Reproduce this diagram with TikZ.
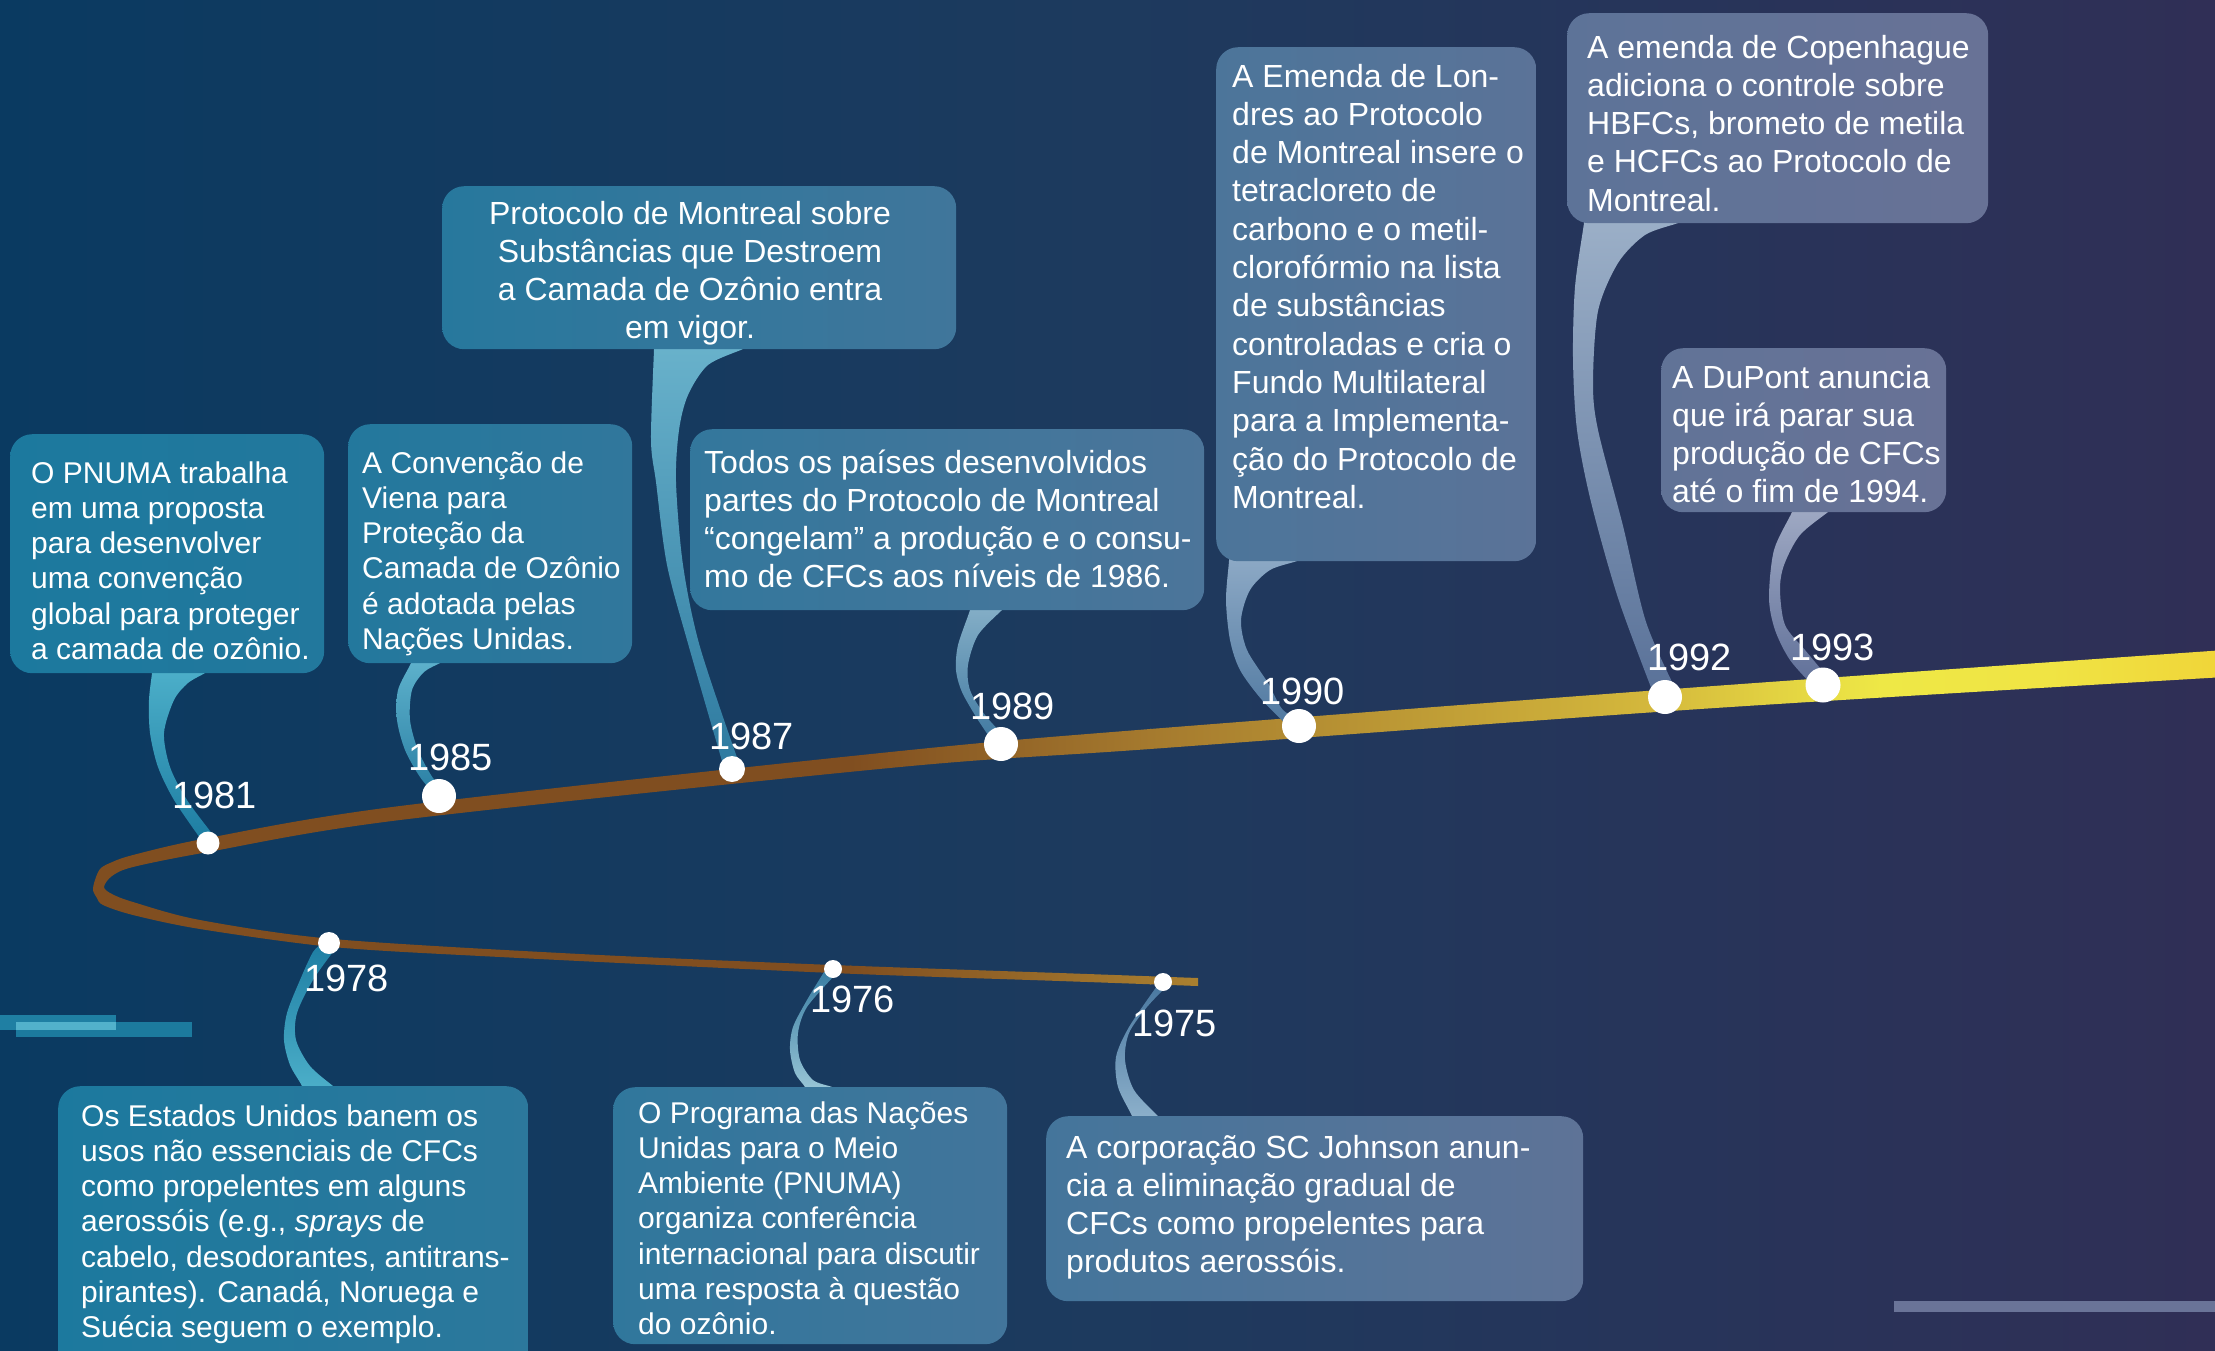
\documentclass[tikz,border=0pt]{standalone}
\usepackage{fontspec}
\setmainfont{Liberation Sans}
\newcommand\fsmall{\fontsize{30}{35.3}\selectfont}
\newcommand\flarge{\fontsize{32}{38.3}\selectfont}
\newcommand\fyear{\fontsize{38}{40}\selectfont}
% background
\definecolor{bgL}{RGB}{10,58,97}
\definecolor{bgM}{RGB}{29,58,94}
\definecolor{bgR}{RGB}{48,47,86}
% bars
\definecolor{barA}{RGB}{31,127,163}
\definecolor{barB}{RGB}{28,122,158}
\definecolor{barC}{RGB}{82,177,203}
\definecolor{barD}{RGB}{106,116,152}
% ribbon
\definecolor{rb0}{RGB}{128,78,32}
\definecolor{rb1}{RGB}{165,122,46}
\definecolor{rb2}{RGB}{212,184,60}
\definecolor{rb3}{RGB}{238,232,70}
\definecolor{rb4}{RGB}{240,228,68}
\definecolor{rb5}{RGB}{240,212,56}
% boxes
\definecolor{b1981L}{RGB}{28,121,158}\definecolor{b1981R}{RGB}{34,120,157}
\definecolor{b1985L}{RGB}{35,120,157}\definecolor{b1985R}{RGB}{49,119,156}
\definecolor{b1987L}{RGB}{39,120,157}\definecolor{b1987R}{RGB}{64,118,155}
\definecolor{b1989L}{RGB}{51,119,156}\definecolor{b1989R}{RGB}{76,117,154}
\definecolor{b1990L}{RGB}{76,117,154}\definecolor{b1990R}{RGB}{91,115,152}
\definecolor{b1992L}{RGB}{93,115,152}\definecolor{b1992R}{RGB}{104,114,150}
\definecolor{b1993L}{RGB}{97,115,151}\definecolor{b1993R}{RGB}{104,114,150}
\definecolor{b1978L}{RGB}{28,121,158}\definecolor{b1978R}{RGB}{44,120,156}
\definecolor{b1976L}{RGB}{48,119,156}\definecolor{b1976R}{RGB}{66,117,155}
\definecolor{b1975L}{RGB}{68,117,155}\definecolor{b1975R}{RGB}{94,115,151}
% tails (a = light, box end; b = dark, dot end)
\definecolor{t1981a}{RGB}{77,176,202}\definecolor{t1981b}{RGB}{30,126,163}
\definecolor{t1985a}{RGB}{95,179,205}\definecolor{t1985b}{RGB}{42,127,164}
\definecolor{t1987a}{RGB}{106,179,204}\definecolor{t1987b}{RGB}{46,122,160}
\definecolor{t1989a}{RGB}{134,176,200}\definecolor{t1989b}{RGB}{63,120,160}
\definecolor{t1990a}{RGB}{142,170,198}\definecolor{t1990b}{RGB}{79,120,160}
\definecolor{t1992a}{RGB}{156,176,200}\definecolor{t1992b}{RGB}{90,114,153}
\definecolor{t1993a}{RGB}{160,170,196}\definecolor{t1993b}{RGB}{95,111,152}
\definecolor{t1978a}{RGB}{77,176,202}\definecolor{t1978b}{RGB}{30,126,163}
\definecolor{t1976a}{RGB}{156,200,216}\definecolor{t1976b}{RGB}{58,126,163}
\definecolor{t1975a}{RGB}{143,178,204}\definecolor{t1975b}{RGB}{74,120,160}
\newcommand\calltail[4]{\shade[top color=#1, bottom color=#2] plot[smooth] coordinates {#3} -- plot[smooth] coordinates {#4} -- cycle;}
\tikzset{
  evbox/.style={rounded corners=22pt, inner sep=0pt, anchor=north west, draw=none},
  evtext/.style={anchor=base west, inner sep=0pt, text=white},
  yearlbl/.style={anchor=base west, inner sep=0pt, text=white, font=\fyear},
  dotc/.style={circle, fill=white, inner sep=0pt, draw=none}
}
\begin{document}
\begin{tikzpicture}[x=1pt,y=-1pt]
\useasboundingbox (0,0) rectangle (2215,1350);
\clip (0,0) rectangle (2215,1350);
% background
\shade[left color=bgL, right color=bgM] (0,0) rectangle (1101,1350);
\shade[left color=bgM, right color=bgR] (1100,0) rectangle (2215,1350);
% decorative bars
\fill[barA] (0,1015) rectangle (116,1030);
\fill[barB] (16,1022) rectangle (192,1037);
\fill[barC] (16,1022) rectangle (116,1030);
\fill[barD] (1894,1301) rectangle (2215,1312);
% timeline ribbon
\begin{scope}
\clip plot[smooth] coordinates {(2225,650) (1700,687) (1150,729) (900,751) (400,806) (208,838) (133,855) (110,863) (100,869) (95,880) (93,890) (97,898) (103,905) (133,915) (200,929) (333,947) (500,957) (833,973) (1060,981) (1198,986)}
  -- (1198,978)
  -- plot[smooth] coordinates {(1060,973) (833,965) (580,954) (333,939) (200,920) (133,902) (112,894) (104,887) (112,876) (133,867) (208,852) (400,820) (900,767) (1150,749) (1700,709) (2225,677)} -- cycle;
\fill[rb0] (0,600) rectangle (851,1000);
\shade[left color=rb0, right color=rb1] (850,600) rectangle (1151,1000);
\shade[left color=rb1, right color=rb2] (1150,600) rectangle (1651,1000);
\shade[left color=rb2, right color=rb3] (1650,600) rectangle (1881,1000);
\shade[left color=rb3, right color=rb4] (1880,600) rectangle (2051,1000);
\shade[left color=rb4, right color=rb5] (2050,600) rectangle (2230,1000);
\end{scope}
% tails (upper boxes)
\calltail{t1981a}{t1981b}{(152,666) (152,673) (149,700) (150,733) (158,767) (174,800) (200,838)}{(214,836) (187,800) (170,767) (164,733) (174,700) (188,683) (205,673) (210,668)}
\calltail{t1985a}{t1985b}{(411,656) (411,663) (398,690) (397,720) (405,750) (420,777) (435,795)}{(447,790) (433,778) (418,750) (410,720) (412,690) (424,672) (440,663) (445,659)}
\calltail{t1987a}{t1987b}{(654,342) (654,349) (651,440) (656,482) (667,565) (689,647) (724,768)}{(740,766) (700,647) (683,565) (676,482) (679,430) (688,395) (708,365) (743,349) (748,345)}
\calltail{t1989a}{t1989b}{(970,603) (970,610) (958,645) (956,670) (962,692) (978,720) (995,745)}{(1008,740) (985,715) (970,690) (968,665) (978,635) (1002,610) (1007,606)}
\calltail{t1990a}{t1990b}{(1229,554) (1229,561) (1226,600) (1230,640) (1240,670) (1262,700) (1290,728)}{(1305,722) (1283,710) (1268,683) (1247,650) (1241,620) (1250,590) (1270,570) (1297,561) (1302,557)}
\calltail{t1992a}{t1992b}{(1584,216) (1584,223) (1575,287) (1573,359) (1577,430) (1591,502) (1618,598) (1652,690)}{(1676,690) (1646,622) (1623,526) (1598,430) (1593,383) (1598,311) (1618,263) (1645,235) (1678,223) (1683,219)}
\calltail{t1993a}{t1993b}{(1792,505) (1792,512) (1774,550) (1769,598) (1775,630) (1790,660) (1815,688)}{(1830,680) (1805,650) (1785,625) (1780,590) (1784,565) (1800,535) (1828,512) (1833,508)}
% tails (lower boxes)
\calltail{t1978b}{t1978a}{(322,944) (313,952) (300,980) (287,1013) (284,1040) (290,1065) (302,1086) (302,1093)}{(338,1090) (333,1086) (310,1066) (296,1040) (297,1013) (313,980) (333,952)}
\calltail{t1976b}{t1976a}{(824,972) (807,1000) (793,1027) (790,1050) (795,1073) (805,1087) (805,1094)}{(837,1091) (832,1087) (813,1080) (800,1060) (798,1033) (807,1007) (835,975)}
\calltail{t1975b}{t1975a}{(1157,986) (1129,1027) (1116,1057) (1118,1087) (1132,1116) (1132,1123)}{(1163,1120) (1158,1116) (1134,1090) (1125,1060) (1129,1033) (1147,1007) (1168,985)}
% boxes
\node[evbox, minimum width=314pt, minimum height=239pt, left color=b1981L, right color=b1981R] (b1981) at (10,434) {};
\node[evbox, minimum width=284pt, minimum height=239pt, left color=b1985L, right color=b1985R] (b1985) at (348,424) {};
\node[evbox, minimum width=514pt, minimum height=163pt, left color=b1987L, right color=b1987R] (b1987) at (442,186) {};
\node[evbox, minimum width=514pt, minimum height=181pt, left color=b1989L, right color=b1989R] (b1989) at (690,429) {};
\node[evbox, minimum width=320pt, minimum height=514pt, left color=b1990L, right color=b1990R] (b1990) at (1216,47) {};
\node[evbox, minimum width=421pt, minimum height=210pt, left color=b1992L, right color=b1992R] (b1992) at (1567,13) {};
\node[evbox, minimum width=285pt, minimum height=164pt, left color=b1993L, right color=b1993R] (b1993) at (1661,348) {};
\node[evbox, minimum width=470pt, minimum height=300pt, left color=b1978L, right color=b1978R] (b1978) at (58,1086) {};
\node[evbox, minimum width=394pt, minimum height=257pt, left color=b1976L, right color=b1976R] (b1976) at (613,1087) {};
\node[evbox, minimum width=537pt, minimum height=185pt, left color=b1975L, right color=b1975R] (b1975) at (1046,1116) {};
% box texts
\node[evtext] (x1981) at (31,483) {\parbox[t]{600pt}{\fsmall\raggedright O PNUMA trabalha\\em uma proposta\\para desenvolver\\uma convenção\\global para proteger\\a camada de ozônio.}};
\node[evtext] (x1985) at (362,473) {\parbox[t]{600pt}{\fsmall\raggedright A Convenção de\\Viena para\\Proteção da\\Camada de Ozônio\\é adotada pelas\\Nações Unidas.}};
\node[anchor=base, inner sep=0pt, text=white] (x1987) at (690,224) {\parbox[t]{600pt}{\flarge\centering Protocolo de Montreal sobre\\Substâncias que Destroem\\a Camada de Ozônio entra\\em vigor.}};
\node[evtext] (x1989) at (704,473) {\parbox[t]{600pt}{\flarge\raggedright Todos os países desenvolvidos\\partes do Protocolo de Montreal\\“congelam” a produção e o consu-\\mo de CFCs aos níveis de 1986.}};
\node[evtext] (x1990) at (1232,87) {\parbox[t]{600pt}{\flarge\raggedright A Emenda de Lon-\\dres ao Protocolo\\de Montreal insere o\\tetracloreto de\\carbono e o metil-\\clorofórmio na lista\\de substâncias\\controladas e cria o\\Fundo Multilateral\\para a Implementa-\\ção do Protocolo de\\Montreal.}};
\node[evtext] (x1992) at (1587,58) {\parbox[t]{600pt}{\flarge\raggedright A emenda de Copenhague\\adiciona o controle sobre\\HBFCs, brometo de metila\\e HCFCs ao Protocolo de\\Montreal.}};
\node[evtext] (x1993) at (1672,388) {\parbox[t]{600pt}{\flarge\raggedright A DuPont anuncia\\que irá parar sua\\produção de CFCs\\até o fim de 1994.}};
\node[evtext] (x1978) at (81,1126) {\parbox[t]{600pt}{\fsmall\raggedright Os Estados Unidos banem os\\usos não essenciais de CFCs\\como propelentes em alguns\\aerossóis (e.g., \textit{sprays} de\\cabelo, desodorantes, antitrans-\\pirantes). Canadá, Noruega e\\Suécia seguem o exemplo.}};
\node[evtext] (x1976) at (638,1123) {\parbox[t]{600pt}{\fsmall\raggedright O Programa das Nações\\Unidas para o Meio\\Ambiente (PNUMA)\\organiza conferência\\internacional para discutir\\uma resposta à questão\\do ozônio.}};
\node[evtext] (x1975) at (1066,1158) {\parbox[t]{600pt}{\flarge\raggedright A corporação SC Johnson anun-\\cia a eliminação gradual de\\CFCs como propelentes para\\produtos aerossóis.}};
% dots
\node[dotc, minimum size=23pt] (d1981) at (208,843) {};
\node[dotc, minimum size=34pt] (d1985) at (439,796) {};
\node[dotc, minimum size=26pt] (d1987) at (732,769) {};
\node[dotc, minimum size=34pt] (d1989) at (1001,744) {};
\node[dotc, minimum size=34pt] (d1990) at (1299,726) {};
\node[dotc, minimum size=34pt] (d1992) at (1665,697) {};
\node[dotc, minimum size=35pt] (d1993) at (1823,685) {};
\node[dotc, minimum size=22pt] (d1978) at (329,943) {};
\node[dotc, minimum size=18pt] (d1976) at (833,969) {};
\node[dotc, minimum size=18pt] (d1975) at (1163,982) {};
% year labels
\node[yearlbl] (y1981) at (172,808) {1981};
\node[yearlbl] (y1985) at (408,770) {1985};
\node[yearlbl] (y1987) at (709,749) {1987};
\node[yearlbl] (y1989) at (970,719) {1989};
\node[yearlbl] (y1990) at (1260,704) {1990};
\node[yearlbl] (y1992) at (1647,670) {1992};
\node[yearlbl] (y1993) at (1790,660) {1993};
\node[yearlbl] (y1978) at (304,991) {1978};
\node[yearlbl] (y1976) at (810,1012) {1976};
\node[yearlbl] (y1975) at (1132,1036) {1975};
\end{tikzpicture}
\end{document}
